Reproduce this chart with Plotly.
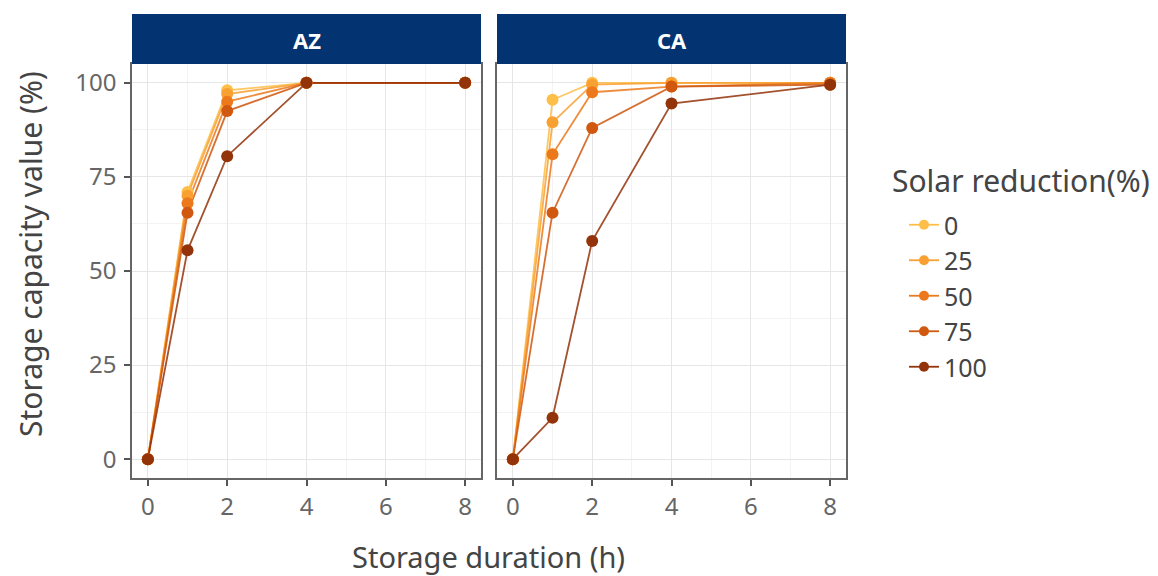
import plotly.graph_objects as go

W, H = 1158, 576

durations = [0, 1, 2, 4, 8]
reductions = ["0", "25", "50", "75", "100"]
colors = ["#FDBF4A", "#F9A032", "#EC7A1C", "#D0580F", "#93330A"]

az_0 = [0, 71, 98, 100, 100]
az_25 = [0, 70, 97, 100, 100]
az_50 = [0, 68, 95, 100, 100]
az_75 = [0, 65.5, 92.5, 100, 100]
az_100 = [0, 55.5, 80.5, 100, 100]

ca_0 = [0, 95.5, 100, 100, 100]
ca_25 = [0, 89.5, 99.5, 100, 100]
ca_50 = [0, 81, 97.5, 99, 100]
ca_75 = [0, 65.5, 88, 99, 99.5]
ca_100 = [0, 11, 58, 94.5, 99.5]

az_series = [az_0, az_25, az_50, az_75, az_100]
ca_series = [ca_0, ca_25, ca_50, ca_75, ca_100]

panels = ["AZ", "CA"]
x_ticks = [0, 2, 4, 6, 8]
y_ticks = [0, 25, 50, 75, 100]

FONT = "Noto Sans"
fig = go.Figure()

for pi, series in enumerate([az_series, ca_series]):
    xa = "x" if pi == 0 else "x2"
    ya = "y" if pi == 0 else "y2"
    for i, vals in enumerate(series):
        fig.add_trace(go.Scatter(x=durations, y=vals, mode="lines", xaxis=xa, yaxis=ya,
                                 line=dict(color=colors[i], width=1.8), opacity=0.85,
                                 showlegend=False, hoverinfo="skip"))
    for i, vals in enumerate(series):
        fig.add_trace(go.Scatter(x=durations, y=vals, mode="markers", xaxis=xa, yaxis=ya,
                                 marker=dict(color=colors[i], size=12),
                                 showlegend=False, name=reductions[i]))

for i, r in enumerate(reductions):
    fig.add_trace(go.Scatter(x=[None], y=[None], mode="lines+markers", name=r,
                             line=dict(color=colors[i], width=1.8),
                             marker=dict(color=colors[i], size=10),
                             legendgroup=r, showlegend=True))

def px_x(p):
    return p / W

def px_y(p):
    return (H - p) / H

dom1 = [px_x(132), px_x(481)]
dom2 = [px_x(497), px_x(846)]
ydom = [px_y(478), px_y(64)]

axis_common = dict(range=[-0.4, 8.4], tickvals=x_ticks, ticks="outside", ticklen=6,
                   tickwidth=1.5, tickcolor="#555", showline=True, mirror=True,
                   linecolor="#666", linewidth=1.5, showgrid=True, gridcolor="#E6E6E6",
                   gridwidth=1.2, zeroline=False,
                   tickfont=dict(family=FONT, size=24, color="#666"),
                   minor=dict(dtick=1, tick0=0, showgrid=True, gridcolor="#F3F3F3", gridwidth=0.8))
yaxis_common = dict(range=[-5, 105], tickvals=y_ticks, showline=True, mirror=True,
                    linecolor="#666", linewidth=1.5, showgrid=True, gridcolor="#E6E6E6",
                    gridwidth=1.2, zeroline=False, domain=ydom,
                    minor=dict(dtick=12.5, tick0=0, showgrid=True, gridcolor="#F3F3F3", gridwidth=0.8))

fig.update_layout(
    width=W, height=H,
    margin=dict(l=0, r=0, t=0, b=0),
    paper_bgcolor="white", plot_bgcolor="white",
    xaxis=dict(domain=dom1, anchor="y", **axis_common),
    xaxis2=dict(domain=dom2, anchor="y2", **axis_common),
    yaxis=dict(anchor="x", ticks="outside", ticklen=6, tickwidth=1.5, tickcolor="#555",
               ticklabelstandoff=3,
               tickfont=dict(family=FONT, size=24, color="#666"), **yaxis_common),
    yaxis2=dict(anchor="x2", showticklabels=False, ticks="", **yaxis_common),
    legend=dict(x=px_x(904), y=px_y(202), xanchor="left", yanchor="top",
                font=dict(family=FONT, size=25, color="#444"),
                tracegroupgap=0, bgcolor="rgba(0,0,0,0)"),
    showlegend=True,
)

strip_color = "#043372"
for d, label in zip([dom1, dom2], panels):
    fig.add_shape(type="rect", xref="paper", yref="paper", x0=d[0], x1=d[1],
                  y0=px_y(64), y1=px_y(14), fillcolor=strip_color, line=dict(width=0))
    fig.add_annotation(text=f"<b>{label}</b>", xref="paper", yref="paper",
                       x=(d[0] + d[1]) / 2, y=px_y(40), showarrow=False,
                       xanchor="center", yanchor="middle",
                       font=dict(family=FONT, size=22, color="white"))

fig.add_annotation(text="Solar reduction(%)", xref="paper", yref="paper",
                   x=px_x(890), y=px_y(180), showarrow=False,
                   xanchor="left", yanchor="middle",
                   font=dict(family=FONT, size=30, color="#444"))
fig.add_annotation(text="Storage duration (h)", xref="paper", yref="paper",
                   x=px_x(488), y=px_y(556), showarrow=False,
                   xanchor="center", yanchor="middle",
                   font=dict(family=FONT, size=29, color="#444"))
fig.add_annotation(text="Storage capacity value (%)", xref="paper", yref="paper",
                   x=px_x(30), y=px_y(254), showarrow=False, textangle=-90,
                   xanchor="center", yanchor="middle",
                   font=dict(family=FONT, size=30, color="#444"))

fig.write_html("out.html")
